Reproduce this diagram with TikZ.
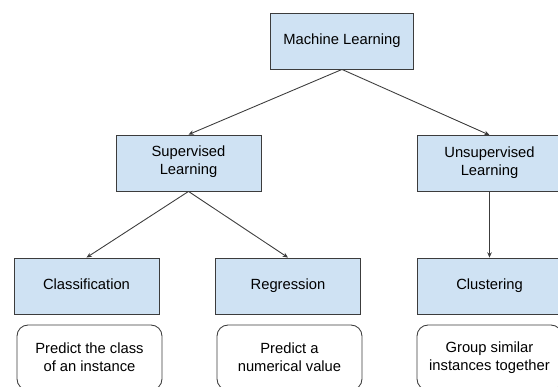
\documentclass[tikz,border=0pt]{standalone}
\usepackage{fontspec}
\setmainfont{Liberation Sans}
\usetikzlibrary{arrows.meta}
\definecolor{boxblue}{HTML}{CFE2F3}
\definecolor{boxline}{HTML}{3C3C3C}
\tikzset{
    topic/.style={draw=boxline, fill=boxblue, line width=0.5pt,
        minimum width=2.9cm, minimum height=1.12cm, align=center,
        inner sep=0pt, font=\fontsize{8.4}{10.3}\selectfont,
        execute at begin node=\strut},
    note/.style={draw=boxline, rounded corners=0.22cm, line width=0.5pt,
        minimum width=2.9cm, minimum height=1.3cm, align=center,
        inner sep=0pt, font=\fontsize{8.4}{10.3}\selectfont},
    link/.style={draw=boxline, line width=0.5pt, -{Stealth[length=3pt,width=2.6pt]}}
}
\begin{document}
\begin{tikzpicture}[x=0.02cm, y=-0.02cm]
    \useasboundingbox (0,0) rectangle (558,386);
    \clip (0,0) rectangle (558,386);

    \node[topic, minimum width=2.86cm] (ml) at (342,41) {Machine Learning};
    \node[topic] (sup) at (188.5,163) {Supervised\\Learning};
    \node[topic] (unsup) at (489.5,163.5) {Unsupervised\\Learning};

    \node[topic] (cls) at (86.5,286) {Classification};
    \node[topic] (reg) at (288,286) {Regression};
    \node[topic] (clu) at (489.5,286) {Clustering};

    \node[note] (pcls) at (89.5,357.5) {Predict the class\\of an instance};
    \node[note] (preg) at (289.5,357.5) {Predict a\\numerical value};
    \node[note] (pclu) at (489.5,357.5) {Group similar\\instances together};

    \draw[link] (ml.south) -- (sup.north);
    \draw[link] (ml.south) -- (unsup.north);
    \draw[link] (sup.south) -- (cls.north);
    \draw[link] (sup.south) -- (reg.north);
    \draw[link] (unsup.south) -- (clu.north);
\end{tikzpicture}
\end{document}
